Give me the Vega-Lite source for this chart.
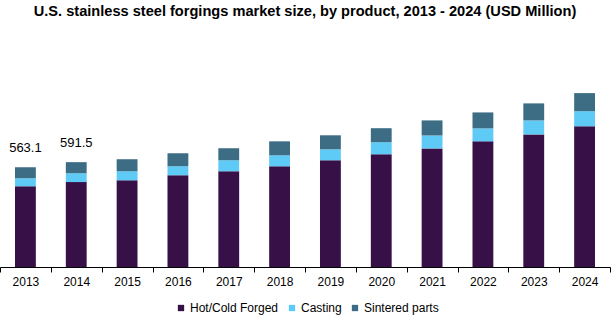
{
  "$schema": "https://vega.github.io/schema/vega-lite/v6.json",
  "width": 610,
  "height": 237,
  "autosize": {"type": "none"},
  "padding": {"left": 0, "top": 30, "right": 6, "bottom": 55},
  "background": "white",
  "config": {
    "font": "Liberation Sans",
    "view": {"stroke": null}
  },
  "title": {
    "text": "U.S. stainless steel forgings market size, by product, 2013 - 2024 (USD Million)",
    "fontSize": 14.6,
    "fontWeight": "bold",
    "color": "#000000",
    "anchor": "middle",
    "offset": 11,
    "font": "Liberation Sans"
  },
  "datasets": {
    "bars": [
      {"year": "2013", "product": "Hot/Cold Forged", "value": 456},
      {"year": "2013", "product": "Casting", "value": 45},
      {"year": "2013", "product": "Sintered parts", "value": 62.1},
      {"year": "2014", "product": "Hot/Cold Forged", "value": 479},
      {"year": "2014", "product": "Casting", "value": 50},
      {"year": "2014", "product": "Sintered parts", "value": 62.5},
      {"year": "2015", "product": "Hot/Cold Forged", "value": 489},
      {"year": "2015", "product": "Casting", "value": 51},
      {"year": "2015", "product": "Sintered parts", "value": 68},
      {"year": "2016", "product": "Hot/Cold Forged", "value": 517},
      {"year": "2016", "product": "Casting", "value": 51},
      {"year": "2016", "product": "Sintered parts", "value": 73},
      {"year": "2017", "product": "Hot/Cold Forged", "value": 540},
      {"year": "2017", "product": "Casting", "value": 62},
      {"year": "2017", "product": "Sintered parts", "value": 68},
      {"year": "2018", "product": "Hot/Cold Forged", "value": 568},
      {"year": "2018", "product": "Casting", "value": 62},
      {"year": "2018", "product": "Sintered parts", "value": 79},
      {"year": "2019", "product": "Hot/Cold Forged", "value": 602},
      {"year": "2019", "product": "Casting", "value": 62},
      {"year": "2019", "product": "Sintered parts", "value": 79},
      {"year": "2020", "product": "Hot/Cold Forged", "value": 636},
      {"year": "2020", "product": "Casting", "value": 68},
      {"year": "2020", "product": "Sintered parts", "value": 79},
      {"year": "2021", "product": "Hot/Cold Forged", "value": 669},
      {"year": "2021", "product": "Casting", "value": 73},
      {"year": "2021", "product": "Sintered parts", "value": 85},
      {"year": "2022", "product": "Hot/Cold Forged", "value": 709},
      {"year": "2022", "product": "Casting", "value": 73},
      {"year": "2022", "product": "Sintered parts", "value": 90},
      {"year": "2023", "product": "Hot/Cold Forged", "value": 748},
      {"year": "2023", "product": "Casting", "value": 79},
      {"year": "2023", "product": "Sintered parts", "value": 96},
      {"year": "2024", "product": "Hot/Cold Forged", "value": 794},
      {"year": "2024", "product": "Casting", "value": 85},
      {"year": "2024", "product": "Sintered parts", "value": 102}
    ],
    "labels": [
      {"year": "2013", "total": 563.1},
      {"year": "2014", "total": 591.5}
    ]
  },
  "layer": [
    {
      "data": {"name": "bars"},
      "transform": [
        {"calculate": "indexof(['Hot/Cold Forged', 'Casting', 'Sintered parts'], datum.product)", "as": "stackOrder"}
      ],
      "mark": {"type": "bar", "width": {"band": 0.41}},
      "encoding": {
        "x": {
          "field": "year",
          "type": "ordinal",
          "scale": {"paddingInner": 0, "paddingOuter": 0},
          "axis": {
            "title": null,
            "labelAngle": 0,
            "tickBand": "extent",
            "domainColor": "#000000",
            "domainWidth": 1,
            "tickColor": "#000000",
            "tickSize": 5,
            "labelPadding": 4,
            "labelFontSize": 12,
            "labelColor": "#000000",
            "labelFont": "Liberation Sans"
          }
        },
        "y": {
          "field": "value",
          "type": "quantitative",
          "stack": "zero",
          "scale": {"domain": [0, 1337], "nice": false},
          "axis": null
        },
        "order": {"field": "stackOrder", "type": "quantitative", "sort": "ascending"},
        "color": {
          "field": "product",
          "type": "nominal",
          "sort": ["Hot/Cold Forged", "Casting", "Sintered parts"],
          "scale": {
            "domain": ["Hot/Cold Forged", "Casting", "Sintered parts"],
            "range": ["#381048", "#5ECAF6", "#3D6D84"]
          },
          "legend": {
            "title": null,
            "orient": "none",
            "direction": "horizontal",
            "legendX": 175,
            "legendY": 272,
            "symbolType": "square",
            "symbolSize": 40,
            "symbolStrokeWidth": 0,
            "labelFontSize": 12,
            "labelFont": "Liberation Sans",
            "labelColor": "#000000",
            "labelOffset": 3,
            "columnPadding": 7
          }
        }
      }
    },
    {
      "data": {"name": "labels"},
      "mark": {"type": "text", "baseline": "bottom", "dy": -12, "fontSize": 13, "color": "#000000", "font": "Liberation Sans"},
      "encoding": {
        "x": {"field": "year", "type": "ordinal"},
        "y": {"field": "total", "type": "quantitative"},
        "text": {"field": "total", "type": "quantitative", "format": ".1f"}
      }
    }
  ]
}
